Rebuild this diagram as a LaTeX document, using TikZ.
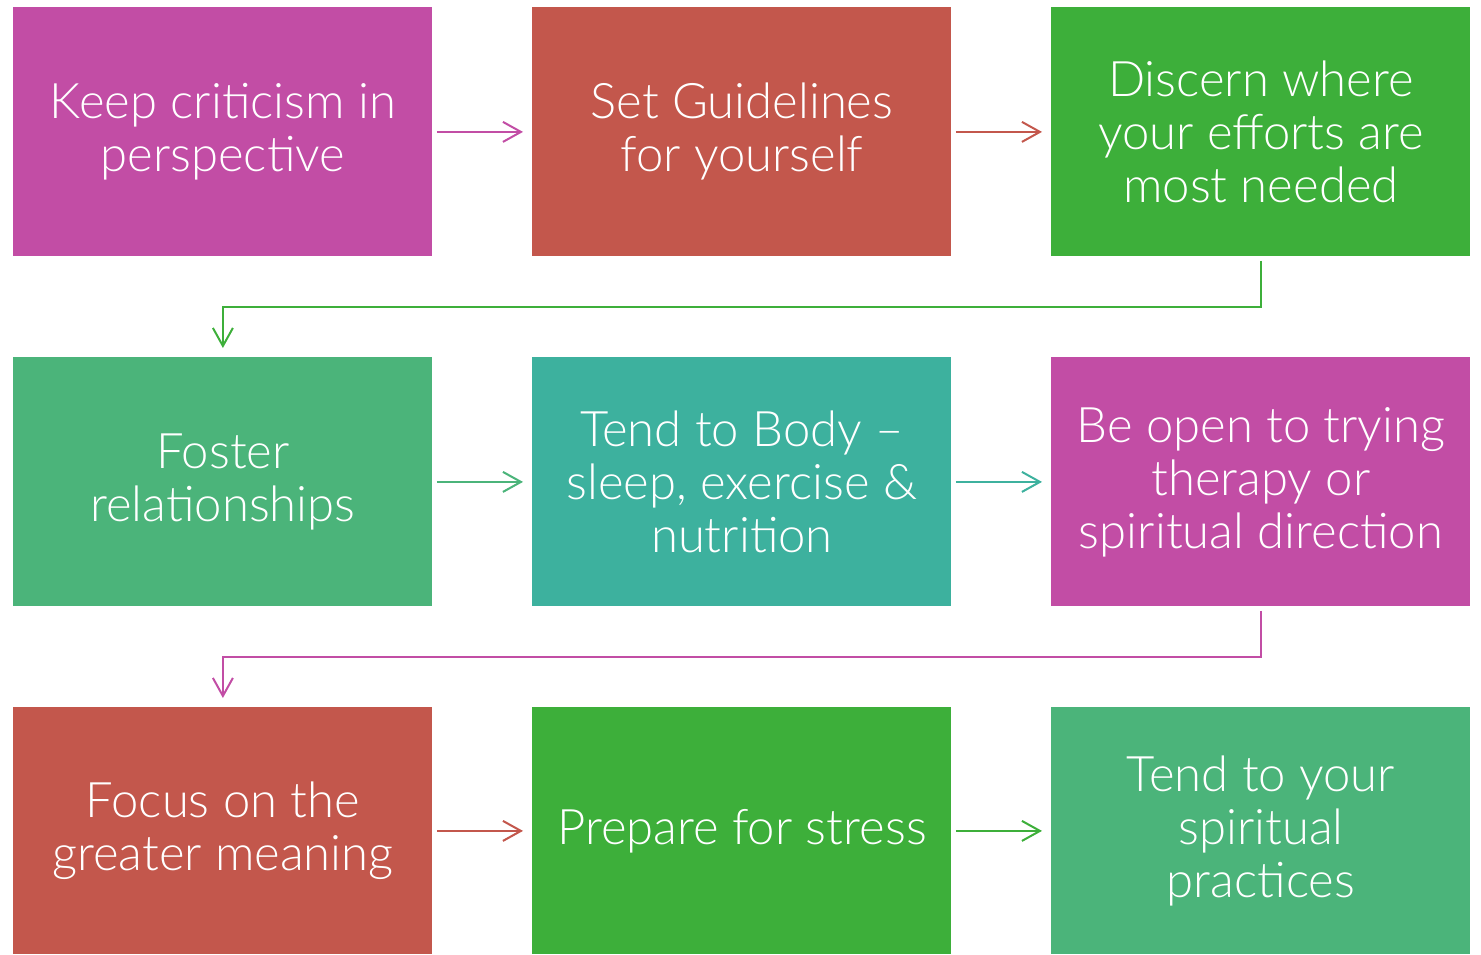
\documentclass[tikz,border=0pt]{standalone}
\usepackage{fontspec}
\setmainfont{Lato Light}
\usetikzlibrary{arrows.meta}

\definecolor{cMagenta}{HTML}{C24DA5}
\definecolor{cRed}{HTML}{C3574C}
\definecolor{cGreen}{HTML}{3DAF3A}
\definecolor{cSea}{HTML}{4BB47A}
\definecolor{cTeal}{HTML}{3DB19E}

\tikzset{
  stepbox/.style={rectangle, fill=#1, draw=none, inner sep=0pt,
    minimum width=209.5pt, minimum height=124.5pt, anchor=north west,
    text=white, align=center, font=\fontsize{24.5}{26.5}\selectfont},
  flow/.style={draw=#1, line width=1pt,
    -{Straight Barb[length=9pt,width=10pt,line width=1pt]},
    shorten <=2pt, shorten >=4.5pt},
}

\begin{document}
\begin{tikzpicture}[x=0.5pt, y=-0.5pt]
  \useasboundingbox (0,0) rectangle (1481,954);

  % row 1
  \node[stepbox=cMagenta] (b1) at (13,7) {Keep criticism in\\perspective};
  \node[stepbox=cRed]     (b2) at (532,7) {Set Guidelines\\for yourself};
  \node[stepbox=cGreen]   (b3) at (1051,7) {Discern where\\your efforts are\\most needed};

  % row 2
  \node[stepbox=cSea]     (b4) at (13,357) {Foster\\relationships};
  \node[stepbox=cTeal]    (b5) at (532,357) {Tend to Body –\\sleep, exercise \&\\nutrition};
  \node[stepbox=cMagenta] (b6) at (1051,357) {Be open to trying\\therapy or\\spiritual direction};

  % row 3
  \node[stepbox=cRed, minimum height=123.5pt]   (b7) at (13,707) {Focus on the\\greater meaning};
  \node[stepbox=cGreen, minimum height=123.5pt] (b8) at (532,707) {Prepare for stress};
  \node[stepbox=cSea, minimum height=123.5pt]   (b9) at (1051,707) {Tend to your\\spiritual\\practices};

  % connectors
  \draw[flow=cMagenta] (b1) -- (b2);
  \draw[flow=cRed]     (b2) -- (b3);
  \draw[flow=cGreen]   (b3.south) -- ++(0,50) -| (b4.north);
  \draw[flow=cSea]     (b4) -- (b5);
  \draw[flow=cTeal]    (b5) -- (b6);
  \draw[flow=cMagenta] (b6.south) -- ++(0,50) -| (b7.north);
  \draw[flow=cRed]     (b7) -- (b8);
  \draw[flow=cGreen]   (b8) -- (b9);
\end{tikzpicture}
\end{document}
